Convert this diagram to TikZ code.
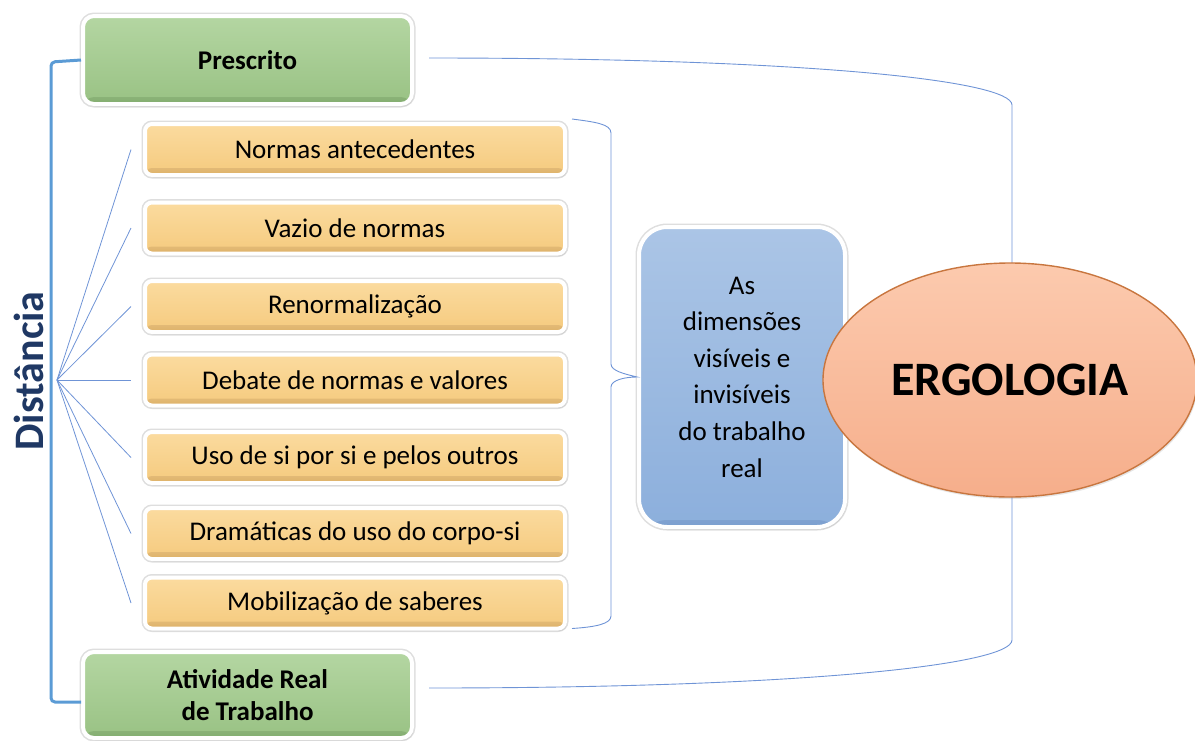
\documentclass[tikz,border=0pt]{standalone}
\usepackage{fontspec}
\setmainfont{Carlito}
\usetikzlibrary{shadows,calc,shapes.geometric}
\definecolor{gtop}{HTML}{B4D6A2}
\definecolor{gbot}{HTML}{99C284}
\definecolor{gbev}{HTML}{6E9A5C}
\definecolor{otop}{HTML}{FBDB9F}
\definecolor{obot}{HTML}{F5CA7E}
\definecolor{obev}{HTML}{C99A52}
\definecolor{btop}{HTML}{ABC5E6}
\definecolor{bbot}{HTML}{8CAFDC}
\definecolor{bbev}{HTML}{6F93C4}
\definecolor{etop}{HTML}{FCCAAE}
\definecolor{ebot}{HTML}{F6AE8B}
\definecolor{edge}{HTML}{C8763F}
\definecolor{thinblue}{HTML}{6F94D6}
\definecolor{thickblue}{HTML}{5B9BD5}
\definecolor{navy}{HTML}{1F3864}
\tikzset{
  boxbase/.style={rectangle, draw=white, line width=4pt, text=black,
    preaction={draw=black!13, line width=7pt},
    drop shadow={opacity=0.15, shadow xshift=1.5pt, shadow yshift=-2.5pt}},
  bevel/.style={path picture={\shade[top color=white, bottom color=#1, opacity=0.5]
    ([yshift=7pt]path picture bounding box.south west) rectangle (path picture bounding box.south east);}},
  greenbox/.style={boxbase, rounded corners=11pt, top color=gtop, bottom color=gbot,
    bevel=gbev, minimum width=329pt, minimum height=88pt, align=center,
    font=\fontsize{27}{32}\selectfont\bfseries},
  orangebox/.style={boxbase, rounded corners=7pt, top color=otop, bottom color=obot,
    bevel=obev, minimum width=420pt, minimum height=51pt,
    font=\fontsize{27}{32}\selectfont},
  bluebox/.style={boxbase, rounded corners=28pt, top color=btop, bottom color=bbot,
    bevel=bbev, minimum width=206pt, minimum height=300pt, align=center,
    font=\fontsize{27}{36.6}\selectfont},
  fanline/.style={draw=thinblue, line width=0.8pt},
  thinline/.style={draw=thinblue, line width=0.9pt},
  bracketline/.style={draw=thickblue, line width=3pt, rounded corners=4pt},
}
\begin{document}
\begin{tikzpicture}[x=1pt,y=-1pt]
\useasboundingbox (0,0) rectangle (1195,740);

% green boxes and big outer bracket (behind ellipse)
\node[greenbox] (presc) at (247.5,60) {Prescrito};
\node[greenbox, minimum height=86pt] (ativ) at (247.5,695) {Atividade Real\\de Trabalho};
\coordinate (bt) at (1012,105);
\coordinate (bb) at (1012,640);
\draw[thinline] ($(presc.east)+(15,-2)$) .. controls (800,58) and (1012,80) .. (bt) -- (bb)
  .. controls (1012,665) and (800,688) .. ($(ativ.east)+(15,-7)$);

% orange boxes
\node[orangebox] (o1) at (355,149.5) {Normas antecedentes};
\node[orangebox] (o2) at (355,228) {Vazio de normas};
\node[orangebox] (o3) at (355,306.5) {Renormalização};
\node[orangebox] (o4) at (355,380) {Debate de normas e valores};
\node[orangebox] (o5) at (355,457.5) {Uso de si por si e pelos outros};
\node[orangebox] (o6) at (355,533.5) {Dramáticas do uso do corpo-si};
\node[orangebox] (o7) at (355,603) {Mobilização de saberes};

% blue box
\node[bluebox] (blue) at (742,377) {As\\dimensões\\visíveis e\\invisíveis\\do trabalho\\real};

% ellipse
\node[ellipse, draw=edge, line width=1.4pt, top color=etop, bottom color=ebot,
  minimum width=374pt, minimum height=234pt,
  drop shadow={opacity=0.2, shadow xshift=1pt, shadow yshift=-2pt}] (ergo) at (1010,380) {};
\node[text=black, font=\fontsize{48}{52}\selectfont\bfseries] (ergot) at (ergo.center) {ERGOLOGIA};

% left thick bracket
\coordinate (fan) at (57,380);
\draw[bracketline] (presc.west) -- ++(-30,2) -- ($(ativ.west)+(-30,7)$) -- ($(ativ.west)+(0,7)$);

% fan lines
\foreach \n in {o1,o2,o3,o4,o5,o6,o7}{
  \draw[fanline] (fan) -- ($(\n.west)+(-12,0)$);
}

% brace to blue box
\coordinate (tip) at (blue.west);
\draw[thinline] ($(o1.north east)+(5,-3)$) .. controls (595,122) and (611,124) .. (611,133)
  -- (611,364) .. controls (611,371) and (625,374) .. (tip)
  .. controls (625,377) and (611,380) .. (611,387)
  -- (611,616) .. controls (611,624) and (595,627) .. ($(o7.south east)+(5,-2)$);

% vertical title
\node[rotate=90, text=navy, font=\fontsize{42}{46}\selectfont\bfseries] (dist) at (29,371) {Distância};
\end{tikzpicture}
\end{document}
